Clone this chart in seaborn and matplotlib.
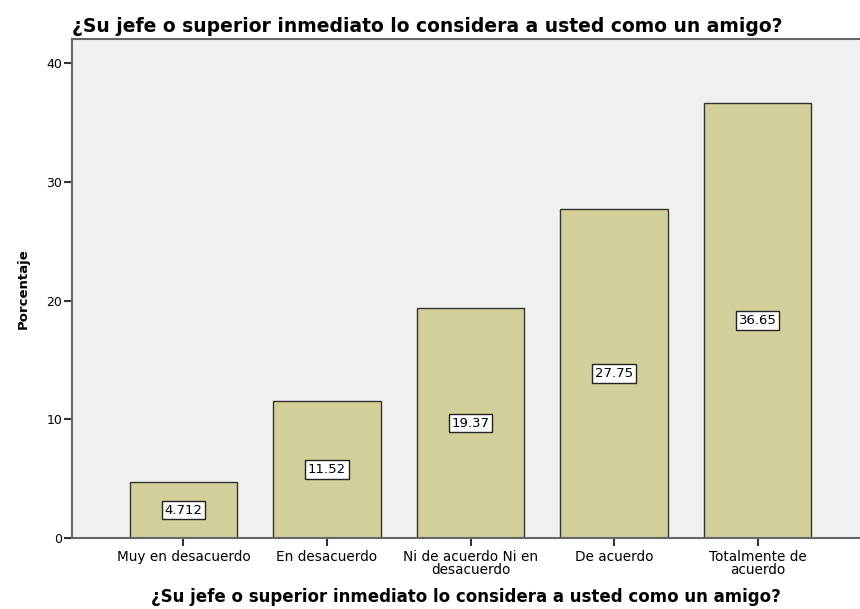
import matplotlib
matplotlib.use("Agg")
import matplotlib.pyplot as plt
import seaborn as sns
import pandas as pd

categorias = [
    "Muy en desacuerdo",
    "En desacuerdo",
    "Ni de acuerdo Ni en\ndesacuerdo",
    "De acuerdo",
    "Totalmente de\nacuerdo",
]
porcentajes = [4.712, 11.52, 19.37, 27.75, 36.65]
ticks_y = [0, 10, 20, 30, 40]

titulo = "¿Su jefe o superior inmediato lo considera a usted como un amigo?"

sns.set_style("white")
plt.rcParams["font.family"] = ["DejaVu Sans"]
plt.rcParams["text.color"] = "black"
plt.rcParams["axes.labelcolor"] = "black"
plt.rcParams["xtick.color"] = "black"
plt.rcParams["ytick.color"] = "black"

data = pd.DataFrame({"categoria": categorias, "porcentaje": porcentajes})

fig = plt.figure(figsize=(8.6, 6.09), dpi=100)
ax = fig.add_axes([0.0837, 0.1166, 0.9163, 0.8194])
ax.set_facecolor("#f0f0f0")

sns.barplot(
    x="categoria",
    y="porcentaje",
    data=data,
    ax=ax,
    color="#d3cf98",
    saturation=1,
    width=0.75,
    edgecolor="#333333",
    linewidth=1,
)

for i, v in enumerate(porcentajes):
    ax.text(
        i, v / 2, f"{v:.4g}",
        ha="center", va="center", fontsize=9.5, color="black",
        bbox=dict(boxstyle="square,pad=0.22", facecolor="white", edgecolor="#222222", linewidth=1),
    )

ax.set_xlim(-0.777, 4.714)
ax.set_ylim(0, 42.05)
ax.set_yticks(ticks_y)
ax.tick_params(axis="both", direction="out", length=6, width=1.5,
               colors="#333333", labelcolor="black", labelsize=9, bottom=True, left=True)
ax.tick_params(axis="x", pad=3, labelsize=9.8)
ax.tick_params(axis="y", pad=1)
for lab in ax.get_xticklabels():
    lab.set_linespacing(0.85)

for s in ["left", "bottom", "top"]:
    ax.spines[s].set_color("#666666")
    ax.spines[s].set_linewidth(1.5)
ax.spines["right"].set_visible(False)

ax.set_ylabel("Porcentaje", fontsize=9.5, fontweight="bold", labelpad=12)
ax.set_xlabel(titulo, fontsize=12, fontweight="bold", labelpad=8)
ax.set_title(titulo, fontsize=13.5, fontweight="bold", loc="left", pad=5)

fig.savefig("out.png", dpi=100)
